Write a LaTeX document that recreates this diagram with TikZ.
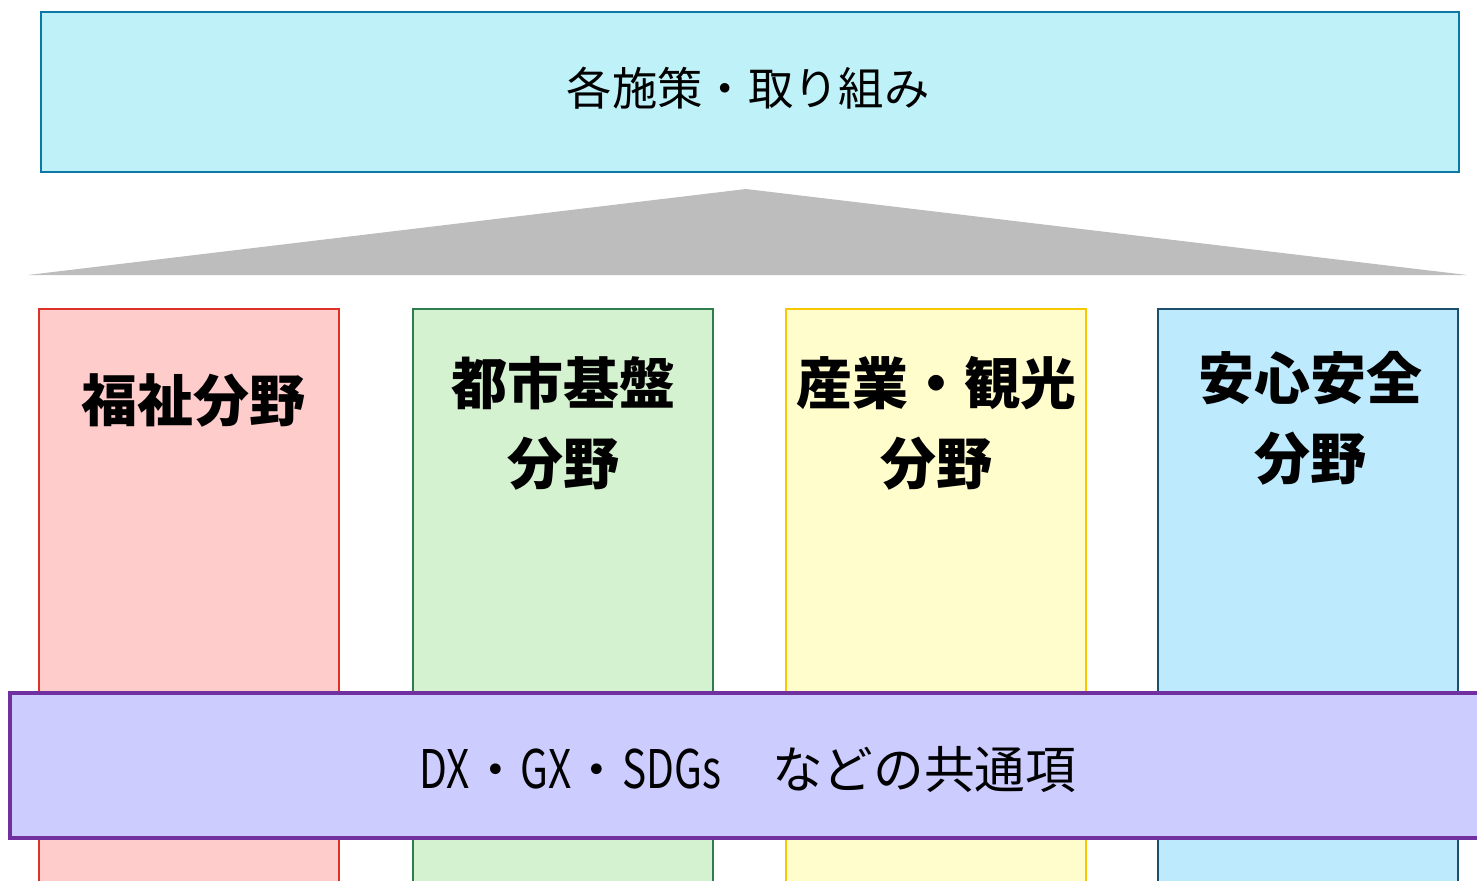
\documentclass[tikz,border=0pt]{standalone}
\usepackage{fontspec}
\setmainfont{Noto Sans CJK JP}
\definecolor{topfill}{HTML}{BEF2F8}
\definecolor{topdraw}{HTML}{0B78A8}
\definecolor{roof}{HTML}{BDBDBD}
\definecolor{rfill}{HTML}{FFCCCC}
\definecolor{rdraw}{HTML}{DC3228}
\definecolor{gfill}{HTML}{D5F2D0}
\definecolor{gdraw}{HTML}{2E7D4F}
\definecolor{yfill}{HTML}{FFFDCC}
\definecolor{ydraw}{HTML}{F7C800}
\definecolor{bfill}{HTML}{BDEAFD}
\definecolor{bdraw}{HTML}{1B4F6B}
\definecolor{pfill}{HTML}{CCCCFF}
\definecolor{pdraw}{HTML}{7030A0}
\newcommand{\narrowlat}[1]{\scalebox{0.8}[1.05]{#1}}
\tikzset{
  panel/.style={line width=1.8pt},
  pillartext/.style={font=\fontsize{42}{60}\selectfont\bfseries, align=center, inner sep=0pt},
  toptext/.style={font=\fontsize{34}{40}\selectfont, inner sep=0pt},
  bandtext/.style={font=\fontsize{38}{44}\selectfont, inner sep=0pt},
}
\begin{document}
\begin{tikzpicture}[x=0.75pt,y=-0.75pt]
\useasboundingbox (0,0) rectangle (1477,881);
\clip (0,0) rectangle (1477,881);
% top box
\path[panel, draw=topdraw, fill=topfill] (41,12) rectangle (1459,172);
\node[toptext] (top) at (748,88) {各施策・取り組み};
% roof
\fill[roof] (28,275) -- (746,189) -- (1467,275) -- cycle;
% pillars
\path[panel, draw=rdraw, fill=rfill] (39,309) rectangle (339,900);
\path[panel, draw=gdraw, fill=gfill] (413,309) rectangle (713,900);
\path[panel, draw=ydraw, fill=yfill] (786,309) rectangle (1086,900);
\path[panel, draw=bdraw, fill=bfill] (1158,309) rectangle (1458,900);
\node[pillartext] (p1) at (193,400) {福祉分野};
\node[pillartext] (p2) at (563,423) {都市基盤\\分野};
\node[pillartext] (p3) at (936,423) {産業・観光\\分野};
\node[pillartext] (p4) at (1310,418) {安心安全\\分野};
% band
\path[line width=2.4pt, draw=pdraw, fill=pfill] (10,693) rectangle (1495,838);
\node[bandtext] (band) at (748,770) {\narrowlat{DX}・\narrowlat{GX}・\narrowlat{SDGs}　などの共通項};
\end{tikzpicture}
\end{document}
